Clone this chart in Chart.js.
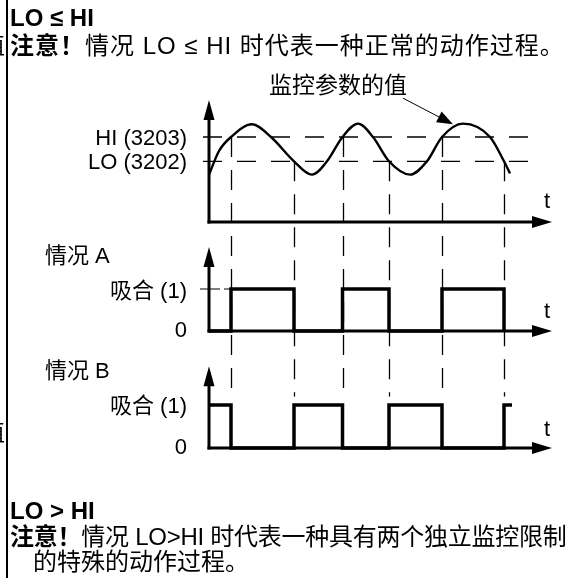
<!DOCTYPE html>
<html>

<head>
    <meta charset="utf-8">
    <title>LO HI</title>
    <script src="https://cdn.jsdelivr.net/npm/chart.js@4.4.0/dist/chart.umd.min.js"></script>
    <style>
        body { margin: 0; background: #fff; }
        #wrap { position: relative; width: 568px; height: 578px; overflow: hidden;
            font-family: "Liberation Sans", "Noto Sans CJK SC", sans-serif; font-size: 24px; color: #000; }
        #wrap canvas { position: absolute; left: 0; top: 0; }
        .txt { position: absolute; white-space: nowrap; line-height: 28px; }
        .bar { position: absolute; left: 6px; top: 0; width: 2px; height: 578px; background: #000; }
    </style>
</head>

<body>
    <div id="wrap">
        <canvas id="myChart" width="568" height="578"></canvas>
        <div class="bar"></div>
        <div class="txt" style="left:-19px;top:32px">值</div>
        <div class="txt" style="left:-19px;top:419px">值</div>
        <div class="txt" style="left:10px;top:4px"><b>LO ≤ HI</b></div>
        <div class="txt" style="left:10px;top:32px;letter-spacing:1px"><b>注意！</b>情况 LO ≤ HI 时代表一种正常的动作过程。</div>
        <div class="txt" style="left:10px;top:497px"><b>LO &gt; HI</b></div>
        <div class="txt" style="left:10px;top:523px;letter-spacing:-0.25px"><b>注意！</b>情况 LO&gt;HI 时代表一种具有两个独立监控限制</div>
        <div class="txt" style="left:33px;top:548px">的特殊的动作过程。</div>
    </div>
    <script>
        // monitored value over time (t: one unit ~ 10 px)
        const tCurve = [0, 1.0, 2.2, 4.3, 6.2, 8.5, 10.3, 11.8, 13.35, 14.9, 16.4, 18.0, 20.1, 21.8, 23.3, 25.4, 28.1, 29.5, 30.1];
        const vCurve = [3.9, 5.85, 7, 8.05, 7, 5, 3.9, 5, 7, 8.1, 7, 5, 3.9, 5, 7, 8.1, 7, 5, 4.0];
        const HI = 7;
        const LO = 5;
        const tLimit = [-0.6, 33.3];

        // moments where the value passes HI (rising) / LO (falling)
        const switchTimes = [2.2, 8.5, 13.35, 18.0, 23.3, 29.5];
        const switchLevels = [HI, LO, HI, LO, HI, LO];

        // relay states
        const tA = [0, 2.2, 8.5, 13.35, 18.0, 23.3, 29.5];
        const stateA = [0, 1, 0, 1, 0, 1, 0];
        const tB = [0, 2.2, 8.5, 13.35, 18.0, 23.3, 29.5, 30.3];
        const stateB = [1, 0, 1, 0, 1, 0, 1, 1];
        const tRefA = [-0.9, 2.2];

        const tAxisEnd = 34.3;
        const arrowTop = { yTop: 10.05, yA: 2.0, yB: 1.9 };
        const dashEndB = 1.2;
        const noteFrom = [19.4, 10.2];
        const noteTo = [24.4, 8.05];

        const pts = (xs, ys) => xs.map((x, i) => ({ x: x, y: ys[i] }));

        function arrow(ctx, x0, y0, x1, y1, len, half) {
            const a = Math.atan2(y1 - y0, x1 - x0);
            ctx.beginPath();
            ctx.moveTo(x0, y0);
            ctx.lineTo(x1 - Math.cos(a) * len * 0.8, y1 - Math.sin(a) * len * 0.8);
            ctx.stroke();
            ctx.beginPath();
            ctx.moveTo(x1, y1);
            ctx.lineTo(x1 - len * Math.cos(a) + half * Math.sin(a), y1 - len * Math.sin(a) - half * Math.cos(a));
            ctx.lineTo(x1 - len * Math.cos(a) - half * Math.sin(a), y1 - len * Math.sin(a) + half * Math.cos(a));
            ctx.closePath();
            ctx.fill();
        }

        const decor = {
            id: 'decor',
            beforeDatasetsDraw(chart) {
                const { ctx, scales } = chart;
                ctx.save();
                ctx.strokeStyle = '#000';
                ctx.lineWidth = 1.3;
                ctx.setLineDash([20, 13]);
                switchTimes.forEach((t, i) => {
                    const px = Math.round(scales.x.getPixelForValue(t)) + 0.5;
                    ctx.beginPath();
                    ctx.moveTo(px, scales.yTop.getPixelForValue(switchLevels[i]));
                    ctx.lineTo(px, scales.yB.getPixelForValue(dashEndB));
                    ctx.stroke();
                });
                ctx.restore();
            },
            afterDatasetsDraw(chart) {
                const { ctx, scales } = chart;
                const x = scales.x;
                ctx.save();
                ctx.fillStyle = '#000';
                ctx.strokeStyle = '#000';
                ctx.lineWidth = 3;
                ctx.setLineDash([]);
                ['yTop', 'yA', 'yB'].forEach(id => {
                    const y = scales[id];
                    const x0 = x.getPixelForValue(0);
                    const y0 = y.getPixelForValue(0);
                    arrow(ctx, x0, y0 + 1.5, x0, y.getPixelForValue(arrowTop[id]), 20, 5.5);
                    arrow(ctx, x0 - 1.5, y0, x.getPixelForValue(tAxisEnd), y0, 20, 6);
                });
                // pointer to the curve
                ctx.lineWidth = 1;
                arrow(ctx, x.getPixelForValue(noteFrom[0]), scales.yTop.getPixelForValue(noteFrom[1]),
                    x.getPixelForValue(noteTo[0]), scales.yTop.getPixelForValue(noteTo[1]), 16, 6);

                // labels
                const y0px = x.getPixelForValue(0);
                const yT = scales.yTop, yA = scales.yA, yB = scales.yB;
                ctx.textBaseline = 'middle';
                ctx.font = '23px "Liberation Sans", "Noto Sans CJK SC"';
                ctx.textAlign = 'right';
                ctx.fillText('监控参数的值', x.getPixelForValue(noteFrom[0]) + 4, yT.getPixelForValue(noteFrom[1]) - 12);
                ctx.font = '22px "Liberation Sans", "Noto Sans CJK SC"';
                ctx.fillText('HI (3203)', y0px - 22, yT.getPixelForValue(HI) + 2);
                ctx.fillText('LO (3202)', y0px - 22, yT.getPixelForValue(LO) + 2);
                ctx.fillText('吸合 (1)', y0px - 22, yA.getPixelForValue(1) + 3);
                ctx.fillText('0', y0px - 22, yA.getPixelForValue(0));
                ctx.fillText('吸合 (1)', y0px - 22, yB.getPixelForValue(1) + 2);
                ctx.fillText('0', y0px - 22, yB.getPixelForValue(0));
                ctx.textAlign = 'left';
                ctx.fillText('情况 A', 45, yA.getPixelForValue(1) - 32);
                ctx.fillText('情况 B', 45, yB.getPixelForValue(1) - 33);
                ctx.textAlign = 'center';
                const tx = x.getPixelForValue(tAxisEnd) - 5;
                ctx.fillText('t', tx, yT.getPixelForValue(0) - 20);
                ctx.fillText('t', tx, yA.getPixelForValue(0) - 19);
                ctx.fillText('t', tx, yB.getPixelForValue(0) - 18);
                ctx.restore();
            }
        };

        const black = { borderColor: '#000', backgroundColor: '#000', pointRadius: 0, fill: false };

        const data = {
            datasets: [
                { ...black, data: pts(tCurve, vCurve), yAxisID: 'yTop', borderWidth: 2.4, cubicInterpolationMode: 'monotone' },
                { ...black, data: pts(tLimit, [HI, HI]), yAxisID: 'yTop', borderWidth: 1.3, borderDash: [19, 15] },
                { ...black, data: pts(tLimit, [LO, LO]), yAxisID: 'yTop', borderWidth: 1.3, borderDash: [19, 15] },
                { ...black, data: pts(tRefA, [1, 1]), yAxisID: 'yA', borderWidth: 1.2, borderDash: [20, 4] },
                { ...black, data: pts(tA, stateA), yAxisID: 'yA', borderWidth: 3.5, stepped: 'before' },
                { ...black, data: pts(tB, stateB), yAxisID: 'yB', borderWidth: 3.5, stepped: 'before' }
            ]
        };

        const config = {
            type: 'line',
            data: data,
            options: {
                responsive: false,
                animation: false,
                events: [],
                layout: { padding: { left: 199, right: 6, top: 92, bottom: 120 } },
                plugins: { legend: { display: false }, tooltip: { enabled: false } },
                scales: {
                    x: { type: 'linear', min: -1, max: 35.3, display: false },
                    yTop: { type: 'linear', position: 'right', stack: 'panels', stackWeight: 140, min: -0.824, max: 10.708, display: false },
                    yA: { type: 'linear', position: 'right', stack: 'panels', stackWeight: 108, min: -0.214, max: 2.357, display: false },
                    yB: { type: 'linear', position: 'right', stack: 'panels', stackWeight: 118, min: -0.2326, max: 2.5116, display: false }
                }
            },
            plugins: [decor]
        };

        const myChart = new Chart(document.getElementById('myChart'), config);
    </script>
</body>

</html>
